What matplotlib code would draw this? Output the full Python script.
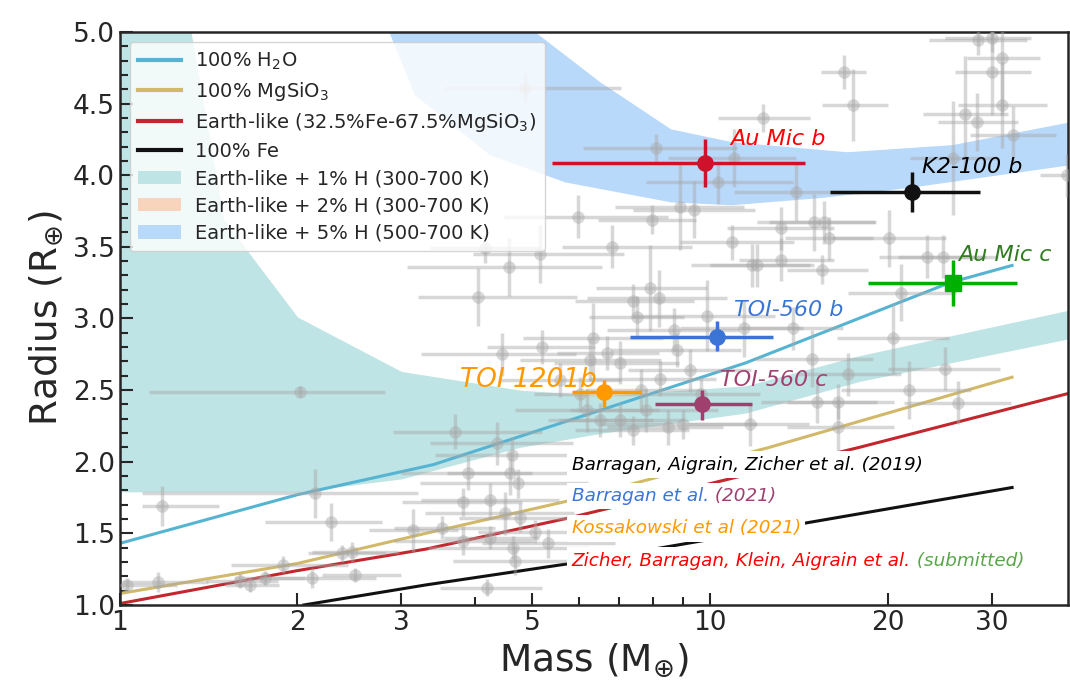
import numpy as np
import matplotlib
matplotlib.use("Agg")
from matplotlib import pyplot as plt
from matplotlib.lines import Line2D
from matplotlib.patches import Patch
from matplotlib.ticker import FixedLocator, FixedFormatter, MultipleLocator

# composition curves (mass in Earth masses, radius in Earth radii)
h2o_m = [1.0, 2.0, 3.4, 11.5, 25.5, 32.5]
h2o_r = [1.43, 1.77, 1.98, 2.69, 3.25, 3.37]
mgsio3_m = [1.0, 2.0, 3.3, 5.8, 12.6, 32.5]
mgsio3_r = [1.08, 1.29, 1.50, 1.73, 2.10, 2.59]
earth_m = [1.0, 2.0, 3.3, 5.8, 17.9, 40.8]
earth_r = [1.01, 1.24, 1.39, 1.61, 2.10, 2.48]
fe_m = [2.05, 3.3, 5.8, 14.9, 32.5]
fe_r = [1.0, 1.14, 1.29, 1.58, 1.82]

# Earth-like + 1% H band
h1_m = [1.0, 1.32, 1.5, 2.0, 3.0, 4.76, 6.58, 11.5, 17.9, 40.8]
h1_hi = [6.0, 5.0, 3.69, 3.01, 2.63, 2.50, 2.46, 2.53, 2.74, 3.06]
h1_lo = [1.79, 1.79, 1.79, 1.79, 1.88, 2.10, 2.20, 2.34, 2.56, 2.86]
# Earth-like + 5% H band
h5_lo_m = [2.6, 2.86, 3.16, 4.24, 5.68, 8.59, 10.9, 15.4, 21.7, 40.9]
h5_lo_r = [5.4, 5.0, 4.56, 4.14, 3.95, 3.81, 3.79, 3.84, 3.91, 4.07]
h5_hi_m = [4.8, 5.05, 6.51, 8.59, 10.9, 17.1, 25.8, 40.9]
h5_hi_r = [5.2, 5.0, 4.65, 4.32, 4.23, 4.16, 4.21, 4.37]

# known planets: mass, mass_lo, mass_hi, radius, r_lo, r_hi
gray = np.array([
    [2.02, 0.90, 0.79, 2.49, 0.04, 0.04],
    [1.18, 0.09, 0.29, 1.69, 0.14, 0.14],
    [2.14, 1.05, 1.06, 1.78, 0.17, 0.17],
    [2.28, 0.52, 0.50, 1.58, 0.13, 0.13],
    [3.14, 0.50, 0.60, 1.52, 0.15, 0.15],
    [1.03, 0.03, 0.22, 1.14, 0.05, 0.05],
    [1.16, 0.15, 0.25, 1.16, 0.07, 0.07],
    [1.60, 0.20, 0.25, 1.17, 0.05, 0.05],
    [1.66, 0.15, 0.20, 1.14, 0.05, 0.05],
    [1.76, 0.20, 0.30, 1.19, 0.05, 0.05],
    [1.89, 0.35, 0.55, 1.28, 0.06, 0.06],
    [2.12, 0.40, 0.60, 1.19, 0.07, 0.07],
    [2.38, 0.30, 0.45, 1.36, 0.06, 0.06],
    [2.47, 0.35, 0.50, 1.37, 0.07, 0.07],
    [2.50, 0.30, 0.50, 1.21, 0.05, 0.05],
    [5.19, 1.00, 1.20, 2.80, 0.12, 0.12],
    [4.44, 1.20, 1.50, 2.75, 0.15, 0.15],
    [3.70, 0.80, 1.50, 2.21, 0.12, 0.12],
    [4.36, 1.00, 1.50, 2.13, 0.15, 0.15],
    [4.62, 1.20, 1.30, 2.05, 0.12, 0.12],
    [3.89, 0.90, 1.10, 1.92, 0.12, 0.12],
    [4.58, 1.00, 1.20, 1.92, 0.15, 0.15],
    [4.72, 1.50, 1.50, 1.85, 0.10, 0.10],
    [3.81, 0.80, 1.00, 1.72, 0.10, 0.10],
    [4.24, 1.00, 1.30, 1.73, 0.12, 0.12],
    [4.49, 1.20, 1.40, 1.64, 0.15, 0.15],
    [4.76, 1.00, 1.20, 1.61, 0.10, 0.10],
    [3.52, 0.60, 0.80, 1.54, 0.08, 0.08],
    [3.81, 0.90, 1.20, 1.45, 0.10, 0.10],
    [4.63, 1.30, 1.60, 1.40, 0.08, 0.08],
    [4.67, 1.00, 1.30, 1.31, 0.10, 0.10],
    [4.24, 0.70, 0.90, 1.47, 0.08, 0.08],
    [4.19, 0.70, 1.00, 1.12, 0.06, 0.06],
    [5.05, 1.00, 1.50, 1.51, 0.08, 0.08],
    [5.31, 1.20, 1.60, 1.43, 0.10, 0.10],
    [6.18, 1.50, 2.00, 2.36, 0.15, 0.15],
    [6.52, 1.20, 1.50, 2.29, 0.12, 0.12],
    [7.05, 1.50, 2.00, 2.29, 0.12, 0.12],
    [7.40, 1.50, 1.80, 2.22, 0.10, 0.10],
    [7.80, 2.00, 2.50, 2.36, 0.15, 0.15],
    [8.50, 1.80, 2.00, 2.24, 0.12, 0.12],
    [9.00, 2.50, 3.00, 2.26, 0.10, 0.10],
    [6.26, 1.50, 2.00, 2.71, 0.15, 0.15],
    [6.70, 1.20, 1.50, 2.76, 0.12, 0.12],
    [7.05, 1.60, 1.80, 2.69, 0.15, 0.15],
    [8.80, 2.00, 2.50, 2.78, 0.12, 0.12],
    [5.98, 1.50, 2.50, 3.71, 0.15, 0.15],
    [7.96, 1.50, 1.50, 3.69, 0.10, 0.10],
    [6.82, 1.20, 2.50, 3.50, 0.15, 0.15],
    [10.9, 2.00, 3.00, 3.53, 0.12, 0.12],
    [4.15, 0.80, 1.00, 3.49, 0.10, 0.10],
    [5.16, 1.20, 2.00, 3.45, 0.20, 0.20],
    [4.57, 1.50, 2.00, 3.36, 0.20, 0.20],
    [11.8, 2.50, 3.00, 3.37, 0.15, 0.15],
    [4.05, 0.85, 1.90, 3.15, 0.20, 0.20],
    [7.90, 1.50, 2.00, 3.21, 0.30, 0.30],
    [8.20, 2.00, 2.50, 3.14, 0.20, 0.20],
    [7.40, 1.50, 2.00, 3.12, 0.12, 0.12],
    [7.53, 1.30, 1.50, 3.01, 0.15, 0.15],
    [9.90, 2.50, 3.00, 3.02, 0.25, 0.25],
    [6.33, 1.50, 2.00, 2.86, 0.25, 0.25],
    [8.70, 2.00, 2.50, 2.92, 0.15, 0.15],
    [11.4, 2.50, 3.00, 2.93, 0.20, 0.20],
    [12.0, 2.00, 3.00, 3.37, 0.15, 0.15],
    [13.2, 2.00, 3.00, 3.41, 0.15, 0.15],
    [15.5, 2.00, 3.00, 3.34, 0.10, 0.10],
    [23.3, 4.00, 6.00, 3.43, 0.15, 0.15],
    [24.8, 4.00, 6.00, 3.43, 0.15, 0.15],
    [21.1, 4.00, 5.00, 3.18, 0.20, 0.20],
    [13.8, 2.50, 3.00, 2.93, 0.15, 0.15],
    [14.9, 3.00, 4.00, 2.72, 0.20, 0.20],
    [20.4, 4.00, 5.00, 2.86, 0.25, 0.25],
    [17.1, 3.00, 4.00, 2.61, 0.15, 0.15],
    [25.0, 5.00, 6.00, 2.65, 0.15, 0.15],
    [21.7, 5.00, 6.00, 2.50, 0.20, 0.20],
    [15.2, 3.00, 4.00, 2.42, 0.15, 0.15],
    [16.5, 3.00, 4.00, 2.42, 0.12, 0.12],
    [26.3, 5.00, 6.00, 2.41, 0.15, 0.15],
    [11.7, 2.50, 3.00, 2.26, 0.15, 0.15],
    [16.5, 3.00, 4.00, 2.24, 0.20, 0.20],
    [4.86, 1.30, 2.20, 4.61, 0.10, 0.10],
    [16.9, 1.50, 1.50, 4.72, 0.12, 0.12],
    [17.5, 2.00, 2.50, 4.49, 0.25, 0.25],
    [12.3, 2.00, 2.50, 4.40, 0.10, 0.10],
    [8.10, 2.00, 3.00, 4.19, 0.10, 0.10],
    [11.0, 2.50, 3.00, 4.12, 0.20, 0.20],
    [10.3, 2.50, 3.50, 3.95, 0.15, 0.15],
    [14.0, 3.00, 4.00, 3.88, 0.20, 0.20],
    [8.90, 2.00, 2.50, 3.78, 0.30, 0.30],
    [9.40, 2.00, 2.50, 3.76, 0.20, 0.20],
    [28.5, 5.00, 6.00, 4.94, 0.10, 0.10],
    [30.0, 5.00, 5.00, 4.96, 0.10, 0.10],
    [31.3, 4.00, 5.00, 4.82, 0.40, 0.40],
    [30.0, 4.00, 5.00, 4.72, 0.30, 0.30],
    [31.3, 5.00, 6.00, 4.49, 0.30, 0.30],
    [27.0, 4.00, 5.00, 4.43, 0.40, 0.40],
    [28.3, 4.00, 5.00, 4.37, 0.20, 0.20],
    [32.6, 5.00, 6.00, 4.28, 0.20, 0.20],
    [25.8, 4.00, 5.00, 4.12, 0.40, 0.40],
    [40.3, 4.00, 4.00, 4.00, 0.15, 0.15],
    [13.2, 2.50, 3.00, 3.63, 0.15, 0.15],
    [15.0, 3.00, 4.00, 3.67, 0.20, 0.20],
    [15.6, 3.00, 3.50, 3.67, 0.15, 0.15],
    [15.9, 2.50, 3.00, 3.56, 0.15, 0.15],
    [20.1, 4.00, 5.00, 3.56, 0.20, 0.20],
    [5.58, 1.20, 1.50, 2.57, 0.12, 0.12],
    [6.03, 1.00, 1.50, 2.47, 0.12, 0.12],
    [7.63, 1.50, 2.00, 2.50, 0.15, 0.15],
    [8.24, 2.00, 2.00, 2.58, 0.12, 0.12],
    [9.25, 2.00, 2.50, 2.64, 0.15, 0.15],
    [9.64, 2.00, 2.50, 2.47, 0.12, 0.12],
])

# highlighted planets
names = ["Au Mic b", "K2-100 b", "Au Mic c", "TOI-560 b", "TOI-560 c", "TOI 1201b"]
p_m = [9.80, 22.0, 25.8, 10.27, 9.70, 6.61]
p_mlo = [4.41, 6.0, 7.3, 2.95, 1.63, 0.78]
p_mhi = [4.70, 6.7, 7.3, 2.53, 2.10, 1.02]
p_r = [4.085, 3.88, 3.25, 2.87, 2.40, 2.49]
p_rlo = [0.17, 0.14, 0.16, 0.10, 0.11, 0.11]
p_rhi = [0.17, 0.14, 0.16, 0.11, 0.10, 0.08]
p_col = ["#d0112b", "#111111", "#00b000", "#3a75d6", "#a0406f", "#ff9900"]
p_txtcol = ["#ff0000", "#000000", "#2e7d1e", "#3a75d6", "#a0406f", "#ff9900"]
p_mark = ["o", "o", "s", "o", "o", "o"]
lab_m = [10.8, 22.9, 26.3, 11.0, 10.4, 3.77]
lab_r = [4.25, 4.06, 3.44, 3.06, 2.57, 2.57]

refs = [
    [("Barragan, Aigrain, Zicher et al. (2019)", "#000000")],
    [("Barragan et al.", "#3a75d6"), (" (2021)", "#a0406f")],
    [("Kossakowski et al (2021)", "#ff9900")],
    [("Zicher, Barragan, Klein, Aigrain et al.", "#ff0000"), (" (submitted)", "#5aa64a")],
]
ref_r = [1.98, 1.76, 1.535, 1.31]

fig = plt.figure(figsize=(10.7, 6.93), dpi=100)
ax = fig.add_axes([0.112, 0.127, 0.886, 0.827])

ax.fill_between(h1_m, h1_lo, h1_hi, color="#bfe4e5", lw=0, zorder=1)
ax.fill(h5_lo_m + h5_hi_m[::-1], h5_lo_r + h5_hi_r[::-1], color="#b9d9fa", lw=0, zorder=1)

ax.plot(h2o_m, h2o_r, color="#56b4d3", lw=2.2, zorder=2)
ax.plot(mgsio3_m, mgsio3_r, color="#d2b96a", lw=2.2, zorder=2)
ax.plot(earth_m, earth_r, color="#c1272d", lw=2.2, zorder=2)
ax.plot(fe_m, fe_r, color="#111111", lw=2.2, zorder=2)

ax.errorbar(gray[:, 0], gray[:, 3], xerr=[gray[:, 1], gray[:, 2]], yerr=[gray[:, 4], gray[:, 5]],
            fmt="o", ms=9, color="#a8a8a8", alpha=0.45, elinewidth=2.5, capsize=0,
            markeredgewidth=0, zorder=3)

hand = dict(family="DejaVu Sans", style="italic")
for i in range(len(names)):
    ax.errorbar(p_m[i], p_r[i], xerr=[[p_mlo[i]], [p_mhi[i]]], yerr=[[p_rlo[i]], [p_rhi[i]]],
                fmt=p_mark[i], ms=11, color=p_col[i], elinewidth=2.5, capsize=0, zorder=6)
    fs = 19 if names[i] == "TOI 1201b" else 16
    ax.text(lab_m[i], lab_r[i], names[i], color=p_txtcol[i], fontsize=fs, va="center",
            ha="left", zorder=7, **hand)

for parts, r in zip(refs, ref_r):
    prev = ax.text(5.83, r, parts[0][0], color=parts[0][1], fontsize=13.2, va="center", ha="left",
                   zorder=8, bbox=dict(facecolor="white", edgecolor="none", pad=3), **hand)
    for txt, col in parts[1:]:
        prev = ax.annotate(txt, xy=(1, 0), xycoords=prev, va="bottom", ha="left", color=col,
                           fontsize=13.2, zorder=7.9,
                           bbox=dict(facecolor="white", edgecolor="none", pad=3), **hand)

ax.set_xscale("log")
ax.set_xlim(1, 40.4)
ax.set_ylim(1.0, 5.0)
ax.xaxis.set_major_locator(FixedLocator([1, 2, 3, 5, 10, 20, 30]))
ax.xaxis.set_major_formatter(FixedFormatter(["1", "2", "3", "5", "10", "20", "30"]))
ax.xaxis.set_minor_locator(FixedLocator([4, 6, 7, 8, 9]))
ax.xaxis.set_minor_formatter(FixedFormatter([]))
ax.yaxis.set_major_locator(MultipleLocator(0.5))
ax.yaxis.set_minor_locator(MultipleLocator(0.1))
ax.tick_params(which="both", direction="in", top=False, right=False, colors="#262626",
               labelsize=19, width=1.5)
ax.tick_params(which="major", length=9)
ax.tick_params(which="minor", length=6)
ax.yaxis.set_major_formatter(matplotlib.ticker.FormatStrFormatter("%.1f"))
for s in ax.spines.values():
    s.set_color("#262626")
    s.set_linewidth(1.8)

ax.set_xlabel(r"Mass (M$_{\oplus}$)", fontsize=27, color="#262626", labelpad=4)
ax.set_ylabel(r"Radius (R$_{\oplus}$)", fontsize=27, color="#262626", labelpad=6)

handles = [
    Line2D([], [], color="#56b4d3", lw=3),
    Line2D([], [], color="#d2b96a", lw=3),
    Line2D([], [], color="#c1272d", lw=3),
    Line2D([], [], color="#111111", lw=3),
    Patch(facecolor="#bfe4e5", edgecolor="none"),
    Patch(facecolor="#f7d4bb", edgecolor="none"),
    Patch(facecolor="#b9d9fa", edgecolor="none"),
]
labels = [r"100% H$_2$O", r"100% MgSiO$_3$", r"Earth-like (32.5%Fe-67.5%MgSiO$_3$)", "100% Fe",
          "Earth-like + 1% H (300-700 K)", "Earth-like + 2% H (300-700 K)",
          "Earth-like + 5% H (500-700 K)"]
leg = ax.legend(handles, labels, loc="upper left", fontsize=14, framealpha=0.8,
                handlelength=2.2, handletextpad=0.7, labelspacing=0.42, borderpad=0.45)
leg.set_zorder(9)
for t in leg.get_texts():
    t.set_color("#262626")

fig.savefig("out.png", dpi=100)
